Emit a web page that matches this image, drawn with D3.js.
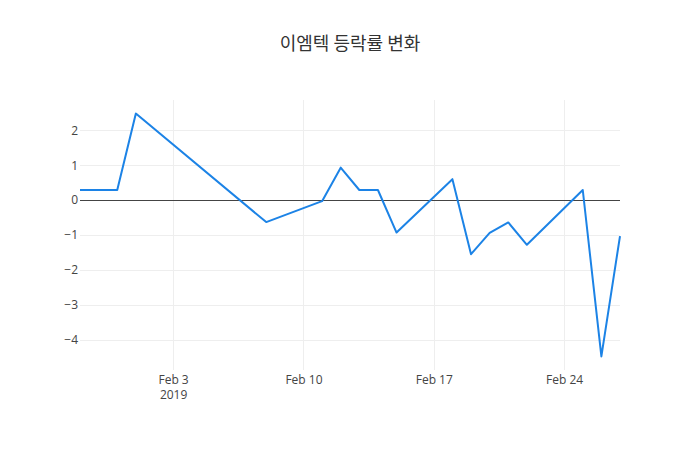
<!DOCTYPE html>
<html><head><meta charset="utf-8">
<script src="https://cdn.jsdelivr.net/npm/d3@7"></script>
<style>body{margin:0;background:#fff;} svg{display:block;}</style>
</head><body>
<svg id="chart" width="700" height="450"></svg>
<script>
const dates = ["2019-01-29","2019-01-30","2019-01-31","2019-02-01","2019-02-08","2019-02-11","2019-02-12","2019-02-13","2019-02-14","2019-02-15","2019-02-18","2019-02-19","2019-02-20","2019-02-21","2019-02-22","2019-02-25","2019-02-26","2019-02-27"];
const values = [0.29,0.29,0.29,2.48,-0.63,-0.03,0.93,0.29,0.29,-0.93,0.6,-1.55,-0.94,-0.64,-1.28,0.29,-4.48,-1.03];
const xTicks = ["2019-02-03","2019-02-10","2019-02-17","2019-02-24"];
const xTickLabels = [["Feb 3","2019"],["Feb 10"],["Feb 17"],["Feb 24"]];
const yTicks = [-4,-3,-2,-1,0,1,2];
const title = "이엠텍 등락률 변화";

const parse = d3.timeParse("%Y-%m-%d");
const data = dates.map((d,i)=>({x:parse(d), y:values[i]}));
const m = {l:80, r:80, t:100, b:80}, W = 700, H = 450;
const svg = d3.select("#chart");
const x = d3.scaleTime().domain(d3.extent(data,d=>d.x)).range([m.l, W-m.r]);
const ext = d3.extent(values), pad = (ext[1]-ext[0])*0.056;
const y = d3.scaleLinear().domain([ext[0]-pad, ext[1]+pad]).range([H-m.b, m.t]);
const font = "'Open Sans', 'Noto Sans', sans-serif";
const crisp = v => Math.round(v)+0.5;

// grid
svg.append("g").selectAll("line").data(yTicks.filter(t=>t!==0)).join("line")
  .attr("x1",m.l).attr("x2",W-m.r).attr("y1",d=>crisp(y(d))).attr("y2",d=>crisp(y(d)))
  .attr("stroke","#eee").attr("stroke-width",1);
svg.append("g").selectAll("line").data(xTicks.map(parse)).join("line")
  .attr("x1",d=>crisp(x(d))).attr("x2",d=>crisp(x(d))).attr("y1",m.t).attr("y2",H-m.b)
  .attr("stroke","#eee").attr("stroke-width",1);
// zero line
svg.append("line").attr("x1",m.l).attr("x2",W-m.r).attr("y1",crisp(y(0))).attr("y2",crisp(y(0)))
  .attr("stroke","#444").attr("stroke-width",1);

// y axis labels
const yAxis = d3.axisLeft(y).tickValues(yTicks).tickSize(0).tickPadding(0)
  .tickFormat(d=> d<0 ? "\u2212"+Math.abs(d) : String(d));
const ya = svg.append("g").attr("transform",`translate(${m.l-2},0)`).call(yAxis);
ya.select(".domain").remove();
ya.selectAll("text").attr("font-family",font).attr("font-size",12).attr("fill","#444");

// x axis labels
const xAxis = d3.axisBottom(x).tickValues(xTicks.map(parse)).tickSize(0).tickFormat("");
const xa = svg.append("g").attr("transform",`translate(0,${H-m.b})`).call(xAxis);
xa.select(".domain").remove();
xa.selectAll(".tick").each(function(d,i){
  const t = d3.select(this).append("text").attr("fill","#444").attr("font-family",font)
    .attr("font-size",12).attr("text-anchor","middle");
  xTickLabels[i].forEach((s,j)=> t.append("tspan").attr("x",0).attr("y",5+j*15.5).attr("dy","0.71em").text(s));
});

// line
svg.append("path").datum(data)
  .attr("d", d3.line().x(d=>x(d.x)).y(d=>y(d.y)))
  .attr("fill","none").attr("stroke","#1c83e6").attr("stroke-width",2).attr("stroke-linejoin","round");

// title
svg.append("text").attr("x",W/2).attr("y",50).attr("text-anchor","middle")
  .attr("font-family","'Noto Sans CJK KR', 'Open Sans', sans-serif").attr("font-size",18).attr("fill","#333").text(title);
</script>
</body></html>
